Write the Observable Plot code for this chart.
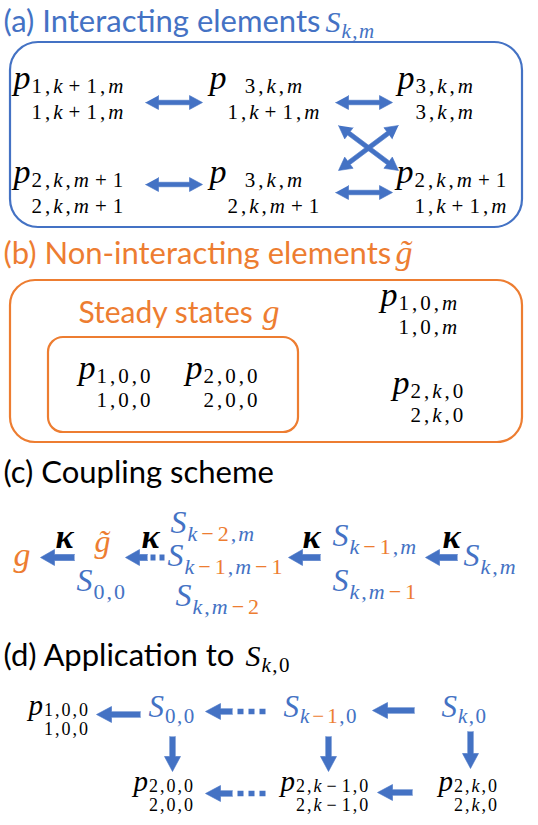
<!DOCTYPE html>
<html><head><meta charset="utf-8">
<script src="https://cdn.jsdelivr.net/npm/d3@7"></script>
<script src="https://cdn.jsdelivr.net/npm/@observablehq/plot@0.6"></script>
<style>html,body{margin:0;padding:0;background:#fff}</style>
</head><body><div id="chart"></div>
<script>
// ---------------- data (labels only) ----------------
const panelTitles = ["(a) Interacting elements", "(b) Non-interacting elements", "(c) Coupling scheme", "(d) Application to"];
const steadyTitle = "Steady states";
const interactingUpper = ["1,k+1,m", "3,k,m", "3,k,m", "2,k,m+1", "3,k,m", "2,k,m+1"];
const interactingLower = ["1,k+1,m", "1,k+1,m", "3,k,m", "2,k,m+1", "2,k,m+1", "1,k+1,m"];
const steadyUpper = ["1,0,0", "2,0,0"];
const steadyLower = ["1,0,0", "2,0,0"];
const nonInteractingUpper = ["1,0,m", "2,k,0"];
const nonInteractingLower = ["1,0,m", "2,k,0"];
// [ ] marks the orange part of a subscript
const couplingSubs = ["0,0", "k[−2],m", "k[−1],m[−1]", "k,m[−2]", "k[−1],m", "k,m[−1]", "k,m"];
const couplingRate = "κ";
const applicationSubs = ["0,0", "k[−1],0", "k,0"];
const applicationUpper = ["1,0,0", "2,0,0", "2,k−1,0", "2,k,0"];
const applicationLower = ["1,0,0", "2,0,0", "2,k−1,0", "2,k,0"];

// ---------------- styles ----------------
const BLUE = "#4472C4", ORANGE = "#ED7D31", INK = "#000";
const SANS = "Lato, 'Open Sans', sans-serif";
const SERIF = "'Liberation Serif', 'DejaVu Serif', serif";
const TS = 31;

// ---------------- text layout helpers ----------------
const ctx = document.createElement("canvas").getContext("2d");
function piece(t, o = {}) {
  return {t, family: o.family || SERIF, size: o.size || 20, style: o.style || "normal",
          weight: o.weight || "normal", fill: o.fill || INK, gap: o.gap || 0, pre: o.pre || 0};
}
function width(p) {
  ctx.font = `${p.style} ${p.weight} ${p.size}px ${p.family}`;
  return ctx.measureText(p.t).width;
}
function runWidth(ps) { return d3.sum(ps, p => width(p) + p.pre) + d3.sum(ps.slice(0, -1), p => p.gap); }
function place(ps, x, y, anchor = "start") {
  const total = runWidth(ps);
  let cx = anchor === "start" ? x : anchor === "middle" ? x - total / 2 : x - total;
  return ps.map(p => { cx += p.pre; const r = {...p, x: cx, y}; cx += width(p) + p.gap; return r; });
}
function mathPieces(str, size, base, alt, gap, opGap) {
  const out = []; let color = base;
  for (const ch of str) {
    if (ch === "[") { color = alt; continue; }
    if (ch === "]") { color = base; continue; }
    const op = ch === "+" || ch === "−";
    out.push(piece(ch, {size, style: /[a-z]/.test(ch) ? "italic" : "normal", fill: color,
      gap: gap + (op ? opGap : 0), pre: op ? opGap : 0}));
  }
  return out;
}
function pLabel(upper, lower, px, by, c) {
  const P = piece("p", {size: c.p, style: "italic"});
  const up = mathPieces(upper, c.s, INK, INK, c.gap, c.op), lo = mathPieces(lower, c.s, INK, INK, c.gap, c.op);
  const cw = Math.max(runWidth(up), runWidth(lo));
  const cx = px + width(P) + c.pad + cw / 2;
  return [...place([P], px, by), ...place(up, cx, by + c.d1, "middle"), ...place(lo, cx, by + c.d2, "middle")];
}
function sLabel(sub, x, y, c, color) {
  const S = piece("S", {size: c.S, style: "italic", fill: color});
  const subs = mathPieces(sub, c.s, color, ORANGE, c.gap, c.op);
  return [...place([S], x, y), ...place(subs, x + width(S) + c.pad, y + c.d)];
}
function gTilde(x, y, size, color) {
  return place([piece("g\u0303", {size, style: "italic", fill: color})], x, y);
}

// ---------------- arrow helpers ----------------
function arrowPoly(id, a, st) {
  const {x1, y1, x2, y2, double} = a;
  const L = Math.hypot(x2 - x1, y2 - y1), ux = (x2 - x1) / L, uy = (y2 - y1) / L, nx = -uy, ny = ux;
  const w = st.shaft / 2, h = st.head / 2, hl = st.len;
  const P = (s, t) => ({id, x: x1 + ux * s + nx * t, y: y1 + uy * s + ny * t});
  const pts = [];
  if (double) pts.push(P(0, 0), P(hl, h), P(hl, w)); else pts.push(P(0, w));
  pts.push(P(L - hl, w), P(L - hl, h), P(L, 0), P(L - hl, -h), P(L - hl, -w));
  if (double) pts.push(P(hl, -w), P(hl, -h)); else pts.push(P(0, -w));
  return pts;
}

// ---------------- layout ----------------
const texts = [];
const add = a => texts.push(...a);

const titlePos = [[3, 31], [3, 263], [3, 482], [3, 665]];
const titleFill = [BLUE, ORANGE, INK, INK];
panelTitles.forEach((t, i) => add(place([piece(t, {family: SANS, size: TS, fill: titleFill[i]})], ...titlePos[i])));
const titleS = {S: 30, s: 21, d: 6, pad: 1, gap: 1.5, op: 1};
add(sLabel("k,m", 325, 31, titleS, BLUE));
add(sLabel("k,0", 245, 665, titleS, INK));
add(gTilde(395, 263, 34, ORANGE));
add(place([piece(steadyTitle, {family: SANS, size: 30, fill: ORANGE})], 78, 322));
add(place([piece("g", {size: 34, style: "italic", fill: ORANGE})], 262, 322));

// (a)
const pA = {p: 34, s: 21, gap: 3, op: 3, pad: 1, d1: 4, d2: 30};
const posA = [[13, 88], [209, 88], [397, 88], [13, 182], [209, 182], [396, 182]];
posA.forEach(([x, y], i) => add(pLabel(interactingUpper[i], interactingLower[i], x, y, pA)));

// (b)
const pB = {p: 34, s: 21, gap: 3, op: 3, pad: 1, d1: 4, d2: 28};
const posSteady = [[78, 378], [185, 378]];
posSteady.forEach(([x, y], i) => add(pLabel(steadyUpper[i], steadyLower[i], x, y, pB)));
const posNon = [[380, 305], [392, 393]];
posNon.forEach(([x, y], i) => add(pLabel(nonInteractingUpper[i], nonInteractingLower[i], x, y, pB)));

// (c)
const sC = {S: 32, s: 22, d: 8, pad: 1, gap: 2, op: 2};
const posC = [[76, 590], [170, 532], [167, 565], [175, 605], [332, 545], [332, 590], [463, 565]];
posC.forEach(([x, y], i) => add(sLabel(couplingSubs[i], x, y, sC, BLUE)));
add(place([piece("g", {size: 34, style: "italic", fill: ORANGE})], 13, 565));
add(gTilde(94, 551, 32, ORANGE));
const kappaPos = [[55, 547], [141, 547], [302, 547], [442, 547]];
kappaPos.forEach(([x, y]) => add(place([piece(couplingRate, {size: 34, style: "italic", weight: "bold"})], x, y)));

// (d)
const sD = {S: 31, s: 21, d: 6, pad: 1, gap: 1.5, op: 1.5};
const posDS = [[148, 716], [283, 716], [441, 716]];
posDS.forEach(([x, y], i) => add(sLabel(applicationSubs[i], x, y, sD, BLUE)));
const pD = {p: 29, s: 18, gap: 2, op: 3, pad: 1, d1: 1, d2: 20};
const posDP = [[28, 714], [133, 790], [280, 790], [438, 790]];
posDP.forEach(([x, y], i) => add(pLabel(applicationUpper[i], applicationLower[i], x, y, pD)));

// arrows
const arrowStyleA = {shaft: 4.5, head: 14, len: 13};
const arrowsA = [
  {x1: 145, y1: 102, x2: 202, y2: 102, double: true},
  {x1: 335, y1: 102, x2: 392, y2: 102, double: true},
  {x1: 338, y1: 125, x2: 398, y2: 170, double: true},
  {x1: 398, y1: 125, x2: 338, y2: 170, double: true},
  {x1: 145, y1: 184, x2: 202, y2: 184, double: true},
  {x1: 335, y1: 192, x2: 392, y2: 192, double: true}
];
const arrowStyleC = {shaft: 6, head: 16, len: 14};
const arrowsC = [
  {x1: 74, y1: 557, x2: 40, y2: 557},
  {x1: 147, y1: 557, x2: 125, y2: 557},
  {x1: 320, y1: 557, x2: 288, y2: 557},
  {x1: 457, y1: 557, x2: 425, y2: 557}
];
const arrowStyleD = {shaft: 5.5, head: 16, len: 15};
const arrowsD = [
  {x1: 140, y1: 714, x2: 96, y2: 714},
  {x1: 232, y1: 711, x2: 205, y2: 711},
  {x1: 414, y1: 710, x2: 372, y2: 710},
  {x1: 172, y1: 736, x2: 172, y2: 771},
  {x1: 328, y1: 736, x2: 328, y2: 771},
  {x1: 470, y1: 731, x2: 470, y2: 768},
  {x1: 232, y1: 793, x2: 205, y2: 793},
  {x1: 412, y1: 792, x2: 377, y2: 792}
];
const arrowPts = [
  ...arrowsA.flatMap((a, i) => arrowPoly("a" + i, a, arrowStyleA)),
  ...arrowsC.flatMap((a, i) => arrowPoly("c" + i, a, arrowStyleC)),
  ...arrowsD.flatMap((a, i) => arrowPoly("d" + i, a, arrowStyleD))
];
const dotsC = [{x1: 150, y1: 557, x2: 164, y2: 557}];
const dotsD = [{x1: 237, y1: 711, x2: 266, y2: 711}, {x1: 237, y1: 793, x2: 266, y2: 793}];

const boxes = [
  {x1: 10, x2: 522, y1: 42, y2: 227, stroke: BLUE, r: 28},
  {x1: 10, x2: 522, y1: 280, y2: 442, stroke: ORANGE, r: 25},
  {x1: 48, x2: 298, y1: 337, y2: 432, stroke: ORANGE, r: 15}
];

const textMarks = d3.groups(texts, d => `${d.family}|${d.style}|${d.weight}`).map(([, rows]) =>
  Plot.text(rows, {x: "x", y: "y", text: "t", fontSize: d => d.size, fill: d => d.fill,
    textAnchor: "start", lineAnchor: "bottom",
    fontFamily: rows[0].family, fontStyle: rows[0].style, fontWeight: rows[0].weight}));

const chart = Plot.plot({
  width: 538, height: 825, margin: 0,
  x: {domain: [0, 538], range: [0, 538], axis: null},
  y: {domain: [0, 825], range: [0, 825], axis: null},
  color: {type: "identity"},
  style: {background: "#fff", overflow: "visible"},
  marks: [
    ...boxes.map(b => Plot.rect([b], {x1: "x1", x2: "x2", y1: "y1", y2: "y2", rx: b.r, fill: "none", stroke: b.stroke, strokeWidth: 2.2})),
    Plot.line(arrowPts, {x: "x", y: "y", z: "id", fill: BLUE, stroke: BLUE, strokeWidth: 0.6}),
    Plot.link(dotsC, {x1: "x1", y1: "y1", x2: "x2", y2: "y2", stroke: BLUE, strokeWidth: 6, strokeDasharray: "5,4", strokeLinecap: "butt"}),
    Plot.link(dotsD, {x1: "x1", y1: "y1", x2: "x2", y2: "y2", stroke: BLUE, strokeWidth: 5.5, strokeDasharray: "6,5", strokeLinecap: "butt"}),
    ...textMarks
  ]
});
document.getElementById("chart").appendChild(chart);
</script>
</body></html>
